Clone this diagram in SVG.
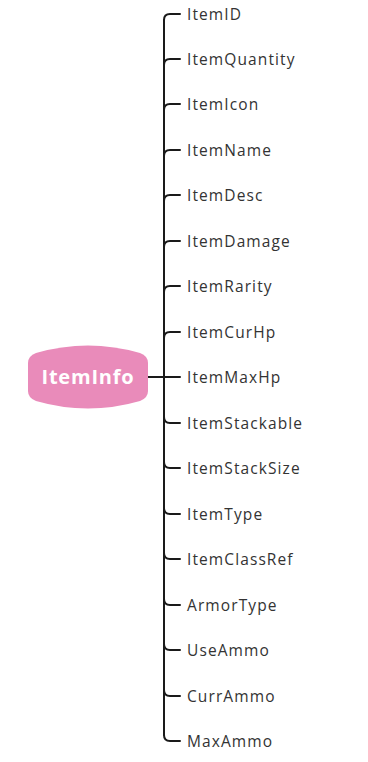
<svg xmlns="http://www.w3.org/2000/svg" width="368" height="762" viewBox="0 0 368 762">
  <style>
    .lbl { font-family: "Open Sans", "Liberation Sans", sans-serif; font-size: 15.5px; fill: #333333; letter-spacing: 1.1px; }
    .root-lbl { font-family: "Open Sans", "Liberation Sans", sans-serif; font-size: 20px; font-weight: bold; fill: #ffffff; letter-spacing: 0.8px; }
    .wire { fill: none; stroke: #1a1a1a; stroke-width: 2; stroke-linecap: round; }
  </style>
  <rect width="368" height="762" fill="#ffffff"/>

  <g id="connectors">
    <path class="wire" d="M148,377 H164"/>
    <path class="wire" d="M164,20 V735"/>
    <path class="wire" d="M164,20 Q164,14 170,14 H180"/>
    <path class="wire" d="M164,65 Q164,59 170,59 H180"/>
    <path class="wire" d="M164,110 Q164,104 170,104 H180"/>
    <path class="wire" d="M164,156 Q164,150 170,150 H180"/>
    <path class="wire" d="M164,201 Q164,195 170,195 H180"/>
    <path class="wire" d="M164,247 Q164,241 170,241 H180"/>
    <path class="wire" d="M164,292 Q164,286 170,286 H180"/>
    <path class="wire" d="M164,338 Q164,332 170,332 H180"/>
    <path class="wire" d="M164,377 H180"/>
    <path class="wire" d="M164,417 Q164,423 170,423 H180"/>
    <path class="wire" d="M164,462 Q164,468 170,468 H180"/>
    <path class="wire" d="M164,508 Q164,514 170,514 H180"/>
    <path class="wire" d="M164,553 Q164,559 170,559 H180"/>
    <path class="wire" d="M164,599 Q164,605 170,605 H180"/>
    <path class="wire" d="M164,644 Q164,650 170,650 H180"/>
    <path class="wire" d="M164,690 Q164,696 170,696 H180"/>
    <path class="wire" d="M164,735 Q164,741 170,741 H180"/>
  </g>

  <g id="root">
    <path d="M28,363 Q28,356 36,353 Q88,338 140,353 Q148,356 148,363 V391 Q148,398 140,401 Q88,416 36,401 Q28,398 28,391 Z" fill="#e98bba"/>
    <text class="root-lbl" x="88" y="384" text-anchor="middle">ItemInfo</text>
  </g>

  <g id="item-id"><text class="lbl" x="187" y="20">ItemID</text></g>
  <g id="item-quantity"><text class="lbl" x="187" y="65">ItemQuantity</text></g>
  <g id="item-icon"><text class="lbl" x="187" y="110">ItemIcon</text></g>
  <g id="item-name"><text class="lbl" x="187" y="156">ItemName</text></g>
  <g id="item-desc"><text class="lbl" x="187" y="201">ItemDesc</text></g>
  <g id="item-damage"><text class="lbl" x="187" y="247">ItemDamage</text></g>
  <g id="item-rarity"><text class="lbl" x="187" y="292">ItemRarity</text></g>
  <g id="item-cur-hp"><text class="lbl" x="187" y="338">ItemCurHp</text></g>
  <g id="item-max-hp"><text class="lbl" x="187" y="383">ItemMaxHp</text></g>
  <g id="item-stackable"><text class="lbl" x="187" y="429">ItemStackable</text></g>
  <g id="item-stack-size"><text class="lbl" x="187" y="474">ItemStackSize</text></g>
  <g id="item-type"><text class="lbl" x="187" y="520">ItemType</text></g>
  <g id="item-class-ref"><text class="lbl" x="187" y="565">ItemClassRef</text></g>
  <g id="armor-type"><text class="lbl" x="187" y="611">ArmorType</text></g>
  <g id="use-ammo"><text class="lbl" x="187" y="656">UseAmmo</text></g>
  <g id="curr-ammo"><text class="lbl" x="187" y="702">CurrAmmo</text></g>
  <g id="max-ammo"><text class="lbl" x="187" y="747">MaxAmmo</text></g>
</svg>
